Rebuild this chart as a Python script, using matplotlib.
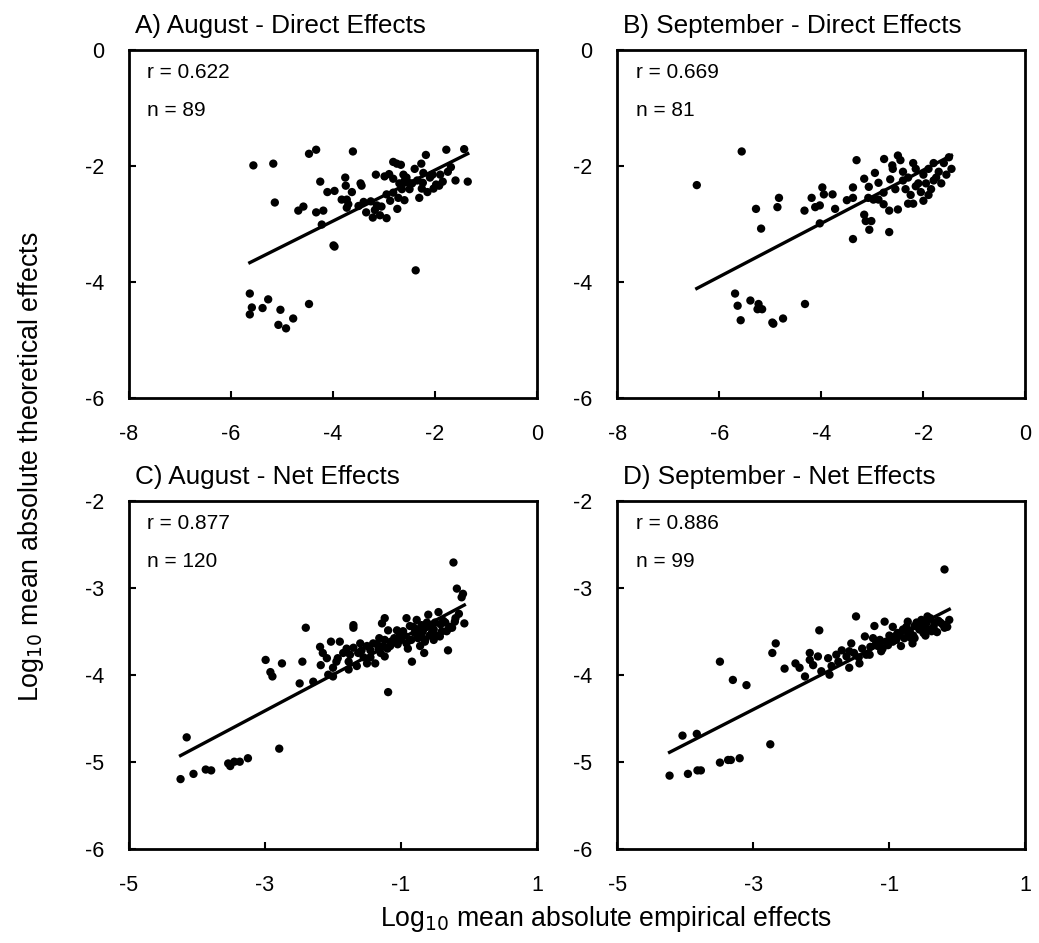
import matplotlib
matplotlib.use("Agg")
import matplotlib.pyplot as plt
import numpy as np

plt.rcParams['font.family'] = ['Liberation Sans', 'DejaVu Sans']

# A) August - direct effects
a_x = [-5.56, -5.17, -4.47, -4.33, -3.61, -2.82, -2.75, -2.67, -2.18, -1.78,
       -1.43, -1.36, -2.27, -3.16, -2.99, -2.90, -2.82, -2.62, -2.56, -2.60,
       -2.52, -2.23, -2.24, -2.26, -2.05, -1.90, -1.69, -1.85, -1.92, -2.03,
       -4.25, -3.76, -3.75, -3.46, -3.44, -4.11, -3.97, -3.63, -3.83, -3.73,
       -3.70, -3.73, -3.50, -3.40, -3.26, -3.14, -3.18, -3.22, -3.08, -2.95,
       -2.82, -2.72, -2.60, -2.74, -2.31, -5.14, -4.68, -4.58, -4.33, -4.19,
       -4.22, -3.99, -3.97, -2.38, -5.63, -5.59, -5.63, -5.38, -5.27, -5.03,
       -4.78, -4.47, -5.07, -4.92, -2.45, -2.40, -2.10, -1.98, -2.70, -2.88,
       -3.05, -2.15, -1.60, -2.50, -3.35, -2.95, -2.35, -1.75, -2.65]
a_y = [-1.99, -1.96, -1.79, -1.72, -1.75, -1.93, -1.96, -1.98, -1.81, -1.72,
       -1.71, -2.27, -1.96, -2.15, -2.18, -2.14, -2.22, -2.15, -2.20, -2.26,
       -2.29, -2.12, -2.29, -2.39, -2.15, -2.15, -2.02, -2.27, -2.34, -2.39,
       -2.27, -2.20, -2.34, -2.30, -2.34, -2.45, -2.43, -2.45, -2.58, -2.58,
       -2.66, -2.72, -2.69, -2.62, -2.61, -2.68, -2.76, -2.89, -2.85, -2.49,
       -2.46, -2.55, -2.59, -2.74, -2.55, -2.63, -2.77, -2.70, -2.80, -2.77,
       -3.01, -3.37, -3.39, -3.80, -4.20, -4.44, -4.56, -4.45, -4.30, -4.48,
       -4.63, -4.38, -4.74, -4.80, -2.30, -2.05, -2.20, -2.32, -2.30, -2.60,
       -2.70, -2.45, -2.25, -2.40, -2.80, -2.90, -2.25, -2.10, -2.40]
a_fit = (0.44, -1.19)

# B) September - direct effects
b_x = [-6.44, -5.56, -5.28, -5.18, -4.86, -4.83, -4.33, -4.19, -4.12, -4.03,
       -3.98, -3.95, -3.78, -3.73, -4.03, -3.50, -3.38, -3.38, -3.31, -3.38,
       -3.16, -3.07, -2.95, -2.88, -2.77, -2.61, -2.65, -2.50, -3.08, -2.98,
       -2.88, -2.78, -2.78, -2.67, -2.50, -3.16, -3.13, -3.02, -3.06, -2.67,
       -5.69, -5.64, -5.58, -5.39, -5.23, -5.25, -5.16, -4.96, -4.94, -4.75,
       -4.32, -2.40, -2.30, -2.20, -2.10, -2.00, -1.90, -1.80, -1.70, -1.60,
       -1.50, -1.45, -2.35, -2.25, -2.15, -2.05, -1.95, -1.85, -1.75, -1.65,
       -2.45, -2.30, -2.60, -2.20, -1.90, -2.40, -2.00, -1.55, -2.55, -2.15,
       -1.80]
b_y = [-2.33, -1.75, -2.74, -3.08, -2.71, -2.55, -2.77, -2.55, -2.71, -2.68,
       -2.37, -2.49, -2.49, -2.74, -2.99, -2.59, -2.55, -2.37, -1.90, -3.26,
       -2.22, -2.36, -2.12, -2.29, -1.88, -1.99, -2.23, -1.82, -2.55, -2.58,
       -2.58, -2.66, -2.46, -2.77, -2.75, -2.84, -2.95, -2.95, -3.10, -3.14,
       -4.20, -4.41, -4.66, -4.32, -4.38, -4.47, -4.47, -4.70, -4.72, -4.63,
       -4.38, -2.10, -2.20, -1.95, -2.30, -2.15, -2.05, -2.25, -2.10, -1.95,
       -1.85, -2.05, -2.40, -2.50, -2.35, -2.45, -2.30, -2.40, -2.20, -2.30,
       -1.90, -2.65, -2.05, -2.65, -2.50, -2.25, -2.60, -2.15, -2.40, -2.05,
       -1.95]
b_fit = (0.46, -1.15)

# C) August - net effects
c_x = [-0.23, -0.18, -0.09, -0.11, -0.07, -0.21, -0.30, -0.25, -0.31, -0.45,
       -0.60, -0.43, -0.65, -0.66, -0.72, -0.84, -0.92, -0.77, -0.87, -0.79,
       -0.70, -0.62, -0.52, -0.55, -0.87, -0.75, -0.92, -1.24, -1.28, -1.19,
       -1.06, -1.24, -1.16, -1.26, -1.24, -1.19, -1.41, -1.50, -1.60, -1.70,
       -1.63, -1.75, -1.77, -1.77, -1.50, -1.38, -1.70, -1.70, -2.03, -1.90,
       -2.19, -2.09, -2.18, -1.93, -2.00, -2.00, -2.07, -2.40, -2.45, -2.49,
       -2.29, -2.99, -2.75, -2.92, -2.89, -4.15, -4.24, -4.05, -3.87, -3.79,
       -3.54, -3.51, -3.45, -3.37, -3.25, -2.79, -0.35, -0.40, -0.50, -0.58,
       -0.68, -0.80, -0.95, -1.00, -1.10, -1.33, -1.45, -1.55, -1.85, -0.28,
       -0.38, -0.48, -0.55, -0.65, -0.75, -0.85, -0.97, -1.05, -1.15, -1.30,
       -1.35, -1.65, -1.80, -2.15, -0.20, -0.33, -0.42, -0.52, -0.62, -0.70,
       -0.82, -0.90, -1.02, -1.12, -1.20, -1.32, -1.45, -1.58, -1.95, -0.15]
c_y = [-2.71, -3.01, -3.07, -3.11, -3.41, -3.39, -3.47, -3.46, -3.72, -3.28,
       -3.31, -3.56, -3.60, -3.75, -3.67, -3.85, -3.35, -3.37, -3.44, -3.48,
       -3.43, -3.45, -3.48, -3.52, -3.60, -3.58, -3.64, -3.35, -3.41, -3.49,
       -3.49, -3.60, -3.67, -3.67, -3.79, -4.20, -3.64, -3.67, -3.64, -3.69,
       -3.75, -3.77, -3.85, -3.94, -3.87, -3.87, -3.43, -3.46, -3.62, -3.62,
       -3.68, -3.81, -3.89, -3.81, -3.92, -4.02, -4.00, -3.46, -3.85, -4.10,
       -4.08, -3.83, -3.87, -3.97, -4.02, -4.72, -5.20, -5.14, -5.09, -5.10,
       -5.02, -5.05, -5.00, -5.00, -4.96, -4.85, -3.40, -3.50, -3.40, -3.55,
       -3.50, -3.52, -3.55, -3.60, -3.58, -3.70, -3.72, -3.80, -3.75, -3.45,
       -3.38, -3.55, -3.45, -3.62, -3.48, -3.60, -3.50, -3.65, -3.62, -3.75,
       -3.65, -3.90, -3.70, -3.75, -3.35, -3.50, -3.42, -3.60, -3.40, -3.55,
       -3.45, -3.70, -3.55, -3.62, -3.70, -3.58, -3.80, -3.72, -3.85, -3.30]
c_fit = (0.415, -3.17)

# D) September - net effects
d_x = [-0.19, -0.12, -0.17, -0.19, -0.30, -0.44, -0.53, -0.48, -0.56, -0.63,
       -0.73, -0.63, -0.78, -0.83, -0.66, -0.95, -1.07, -1.22, -1.49, -1.36,
       -1.24, -1.14, -1.17, -1.12, -1.05, -1.29, -1.34, -1.56, -1.59, -1.63,
       -1.59, -1.44, -1.78, -1.90, -2.00, -1.88, -2.05, -2.12, -2.17, -2.17,
       -2.24, -2.32, -2.38, -2.54, -2.03, -2.72, -2.67, -3.49, -3.30, -3.10,
       -2.75, -4.04, -3.83, -4.23, -3.96, -3.82, -3.77, -3.49, -3.37, -3.33,
       -3.20, -0.25, -0.35, -0.40, -0.58, -0.70, -0.88, -1.00, -0.90, -0.50,
       -0.60, -0.75, -0.85, -1.15, -1.40, -1.70, -0.45, -0.38, -0.68, -0.95,
       -1.02, -1.28, -1.45, -1.75, -0.15, -0.28, -0.42, -0.55, -0.65, -0.80,
       -0.92, -1.10, -1.20, -1.52, -1.85, -0.22, -0.33, -0.47, -0.72]
d_y = [-2.79, -3.37, -3.43, -3.46, -3.51, -3.33, -3.37, -3.44, -3.48, -3.44,
       -3.39, -3.58, -3.58, -3.67, -3.64, -3.45, -3.39, -3.44, -3.33, -3.56,
       -3.58, -3.60, -3.67, -3.73, -3.62, -3.77, -3.77, -3.64, -3.73, -3.79,
       -3.92, -3.87, -3.77, -3.81, -3.96, -4.00, -3.79, -3.89, -3.75, -3.83,
       -4.02, -3.92, -3.87, -3.93, -3.49, -3.75, -3.64, -3.85, -4.06, -4.12,
       -4.80, -4.70, -4.68, -5.16, -5.14, -5.10, -5.10, -5.01, -4.98, -4.98,
       -4.96, -3.40, -3.45, -3.35, -3.42, -3.50, -3.52, -3.55, -3.60, -3.52,
       -3.40, -3.45, -3.55, -3.62, -3.70, -3.72, -3.40, -3.50, -3.58, -3.62,
       -3.66, -3.68, -3.80, -3.85, -3.45, -3.38, -3.48, -3.46, -3.55, -3.48,
       -3.56, -3.70, -3.65, -3.75, -3.90, -3.42, -3.40, -3.55, -3.52]
d_fit = (0.40, -3.20)

titles = ["A) August - Direct Effects", "B) September - Direct Effects",
          "C) August - Net Effects", "D) September - Net Effects"]
r_vals = ["0.622", "0.669", "0.877", "0.886"]
n_vals = ["89", "81", "120", "99"]

fig = plt.figure(figsize=(10.39, 9.43), dpi=100)

# axes boxes in figure fractions (left, bottom, width, height)
boxes = [
    (0.124, 0.578, 0.393, 0.369),
    (0.594, 0.578, 0.393, 0.369),
    (0.124, 0.100, 0.393, 0.369),
    (0.594, 0.100, 0.393, 0.369),
]
xs = [a_x, b_x, c_x, d_x]
ys = [a_y, b_y, c_y, d_y]
fits = [a_fit, b_fit, c_fit, d_fit]

for i in range(4):
    ax = fig.add_axes(boxes[i])
    x = np.array(xs[i])
    y = np.array(ys[i])
    ax.scatter(x, y, s=36, color='black', edgecolors='none', zorder=3)

    slope, icpt = fits[i]
    xl = np.array([x.min(), x.max()])
    ax.plot(xl, slope * xl + icpt, color='black', lw=2.4, zorder=2)

    if i < 2:
        ax.set_xlim(-8, 0)
        ax.set_ylim(-6, 0)
        ax.set_xticks([-8, -6, -4, -2, 0])
        ax.set_yticks([-6, -4, -2, 0])
    else:
        ax.set_xlim(-5, 1)
        ax.set_ylim(-6, -2)
        ax.set_xticks([-5, -3, -1, 1])
        ax.set_yticks([-6, -5, -4, -3, -2])

    ax.set_xticklabels([str(int(t)) for t in ax.get_xticks()])
    ax.set_yticklabels([str(int(t)) for t in ax.get_yticks()])

    ax.tick_params(direction='in', length=5, width=1.5, labelsize=15.5)
    ax.tick_params(axis='x', pad=19)
    ax.tick_params(axis='y', pad=18)
    for sp in ax.spines.values():
        sp.set_linewidth(2)

    ax.text(0.015, 1.035, titles[i], transform=ax.transAxes, fontsize=18.8,
            ha='left', va='bottom')
    ax.text(0.045, 0.962, "r = " + r_vals[i], transform=ax.transAxes,
            fontsize=15, ha='left', va='top')
    ax.text(0.045, 0.852, "n = " + n_vals[i], transform=ax.transAxes,
            fontsize=15, ha='left', va='top')

fig.text(0.03, 0.505, "Log$_{10}$ mean absolute theoretical effects",
         rotation=90, ha='center', va='center', fontsize=19.3)
fig.text(0.583, 0.025, "Log$_{10}$ mean absolute empirical effects",
         ha='center', va='center', fontsize=19.2)

plt.savefig("out.png", dpi=100)
